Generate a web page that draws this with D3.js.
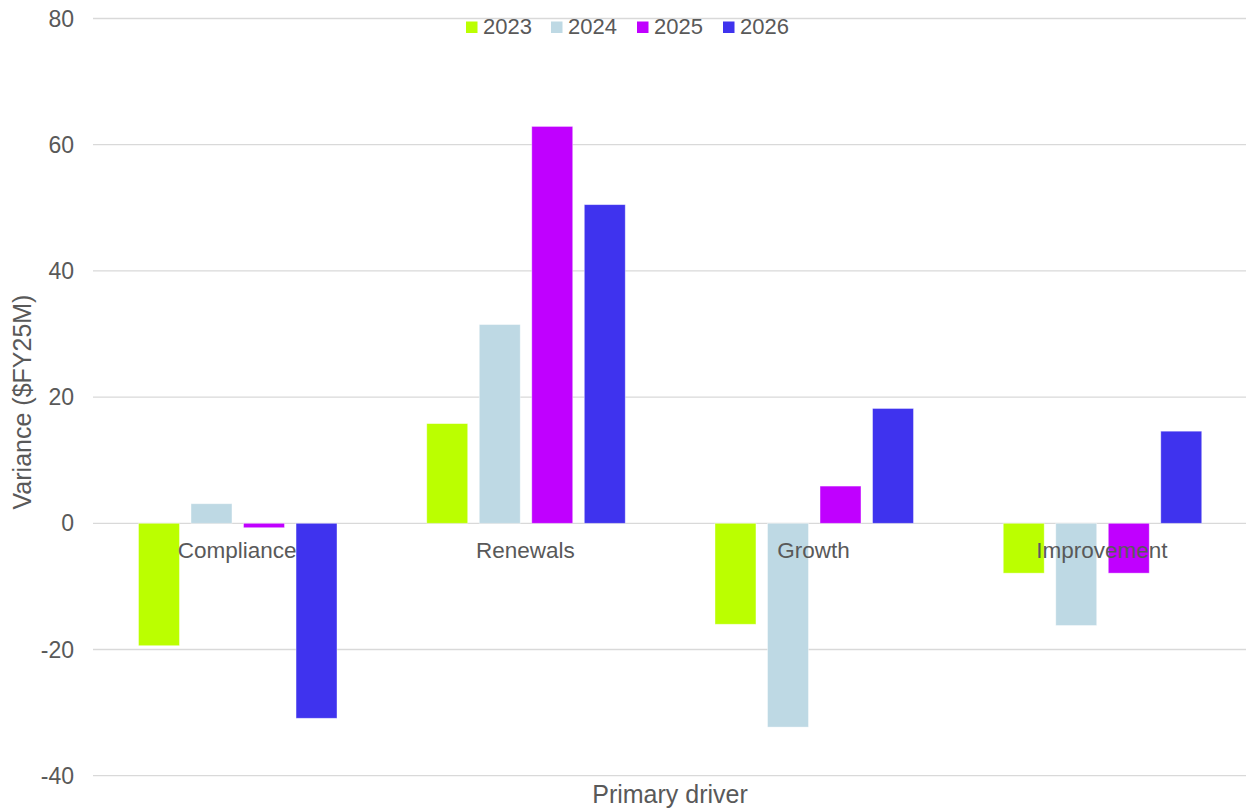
<!DOCTYPE html>
<html><head><meta charset="utf-8">
<script src="https://cdn.jsdelivr.net/npm/d3@7"></script>
<style>
html,body{margin:0;padding:0;background:#fff;}
text{font-family:"Liberation Sans",Arial,sans-serif;fill:#595959;}
</style></head>
<body><svg id="chart" width="1246" height="810"></svg>
<script>
const categories = ["Compliance","Renewals","Growth","Improvement"];
const years = ["2023","2024","2025","2026"];
const v2023 = [-19.4, 15.8, -16.0, -7.9];
const v2024 = [3.1, 31.5, -32.3, -16.2];
const v2025 = [-0.7, 62.9, 5.9, -7.9];
const v2026 = [-30.9, 50.5, 18.2, 14.6];
const yTicks = [-40,-20,0,20,40,60,80];
const colors = ["#bbff00","#bed9e4","#c000ff","#3f33ee"];

const series = [v2023, v2024, v2025, v2026];
const svg = d3.select("#chart");

const x0 = d3.scaleBand().domain(categories).range([93, 1246]).paddingInner(0).paddingOuter(0);
const x1 = d3.scaleBand().domain(years).range([45.5, 244]).paddingInner(0.22).paddingOuter(0);
const y = d3.scaleLinear().domain([-40, 80]).range([775.7, 18.5]);

// gridlines
svg.append("g").selectAll("line").data(yTicks).join("line")
  .attr("x1", 93).attr("x2", 1246)
  .attr("y1", d => y(d)).attr("y2", d => y(d))
  .attr("stroke", "#d9d9d9").attr("stroke-width", 1.3);

// y tick labels
svg.append("g").selectAll("text").data(yTicks).join("text")
  .attr("x", 74).attr("y", d => y(d)).attr("dy", "0.35em")
  .attr("text-anchor", "end").attr("font-size", 23)
  .text(d => d);

// bars
const g = svg.append("g");
categories.forEach((c, ci) => {
  years.forEach((yr, si) => {
    const v = series[si][ci];
    g.append("rect")
      .attr("x", x0(c) + x1(yr))
      .attr("width", x1.bandwidth())
      .attr("y", y(Math.max(0, v)))
      .attr("height", Math.abs(y(v) - y(0)))
      .attr("fill", colors[si])
      .attr("stroke", "rgba(255,255,255,0.5)")
      .attr("stroke-width", 0.8);
  });
});

// category labels
svg.append("g").selectAll("text").data(categories).join("text")
  .attr("x", d => x0(d) + x0.bandwidth() / 2)
  .attr("y", 558)
  .attr("text-anchor", "middle").attr("font-size", 22.5)
  .text(d => d);

// axis titles
svg.append("text").attr("x", 670).attr("y", 803)
  .attr("text-anchor", "middle").attr("font-size", 25)
  .text("Primary driver");
svg.append("text")
  .attr("transform", "translate(31,402) rotate(-90)")
  .attr("text-anchor", "middle").attr("font-size", 25)
  .text("Variance ($FY25M)");

// legend
const legX = [466, 551, 637, 723];
const leg = svg.append("g");
years.forEach((yr, i) => {
  leg.append("rect").attr("x", legX[i]).attr("y", 21.5).attr("width", 11.5).attr("height", 11.5).attr("fill", colors[i]);
  leg.append("text").attr("x", legX[i] + 17).attr("y", 34).attr("font-size", 22).text(yr);
});
</script>
</body></html>
